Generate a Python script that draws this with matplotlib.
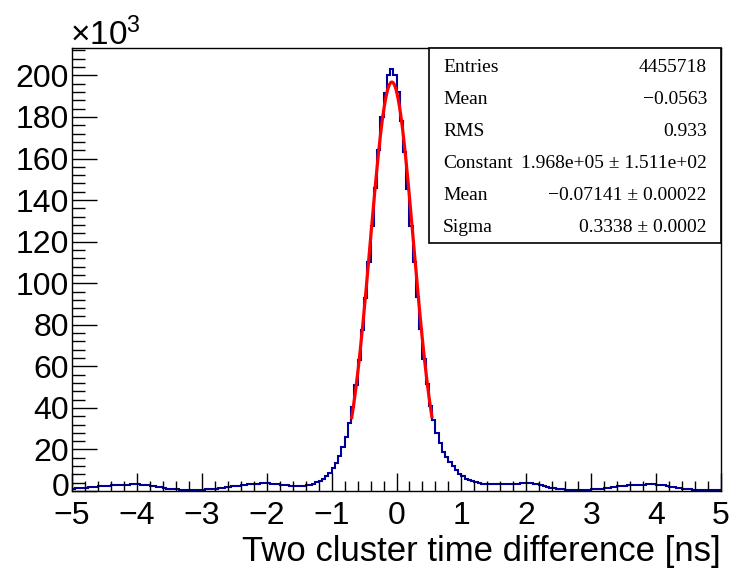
import numpy as np
import matplotlib
matplotlib.use("Agg")
from matplotlib import pyplot as plt
from matplotlib.ticker import MultipleLocator, FuncFormatter

# histogram: 200 bins of 0.05 ns from -5 to 5, counts in units of 10^3
bin_lo = -5.0
bin_hi = 5.0
n_bins = 200

tail_left = [
    1.2, 1.3, 1.4, 1.5, 1.6, 1.7, 1.9, 2.0, 2.2, 2.3,   # -5.0 .. -4.5
    2.5, 2.6, 2.7, 2.8, 2.9, 3.0, 3.1, 3.1, 3.2, 3.2,   # -4.5 .. -4.0
    3.2, 3.1, 3.0, 2.8, 2.6, 2.3, 2.0, 1.7, 1.4, 1.2,   # -4.0 .. -3.5
    1.0, 0.9, 0.8, 0.7, 0.7, 0.6, 0.6, 0.6, 0.6, 0.7,   # -3.5 .. -3.0
    0.7, 0.8, 0.9, 1.0, 1.1, 1.3, 1.5, 1.7, 1.9, 2.2,   # -3.0 .. -2.5
    2.4, 2.6, 2.8, 3.0, 3.2, 3.4, 3.5, 3.6, 3.7, 3.7,   # -2.5 .. -2.0
    3.7, 3.6, 3.5, 3.3, 3.1, 2.9, 2.7, 2.5, 2.4, 2.3,   # -2.0 .. -1.5
]
core = [
    2.3, 2.5, 2.8, 3.1, 3.5, 4.1, 4.9, 6.0, 7.2, 8.9,            # -1.5 .. -1.0
    11.0, 13.6, 16.8, 21.0, 26.2, 32.5, 40.5, 51.0, 63.0, 77.5,  # -1.0 .. -0.5
    93.0, 110.0, 127.5, 146.0, 164.0, 180.0, 191.5, 200.0, 203.0, 200.0,  # -0.5 .. 0.0
    192.0, 178.0, 163.0, 145.5, 127.5, 110.0, 93.5, 78.0, 63.5, 51.5,     # 0.0 .. 0.5
    41.0, 34.0, 28.0, 23.0, 19.0, 16.5, 14.0, 11.8, 9.9, 8.4,    # 0.5 .. 1.0
    7.0, 6.0, 5.2, 4.6, 4.1, 3.8, 3.5, 3.4, 3.3, 3.2,            # 1.0 .. 1.5
]
tail_right = [
    3.2, 3.2, 3.2, 3.2, 3.3, 3.4, 3.5, 3.6, 3.7, 3.8,   # 1.5 .. 2.0
    3.8, 3.7, 3.5, 3.2, 2.8, 2.4, 2.0, 1.6, 1.3, 1.1,   # 2.0 .. 2.5
    0.9, 0.8, 0.7, 0.7, 0.6, 0.6, 0.6, 0.6, 0.7, 0.7,   # 2.5 .. 3.0
    0.8, 0.9, 1.0, 1.2, 1.4, 1.6, 1.8, 2.0, 2.2, 2.4,   # 3.0 .. 3.5
    2.6, 2.7, 2.8, 2.9, 3.0, 3.1, 3.1, 3.2, 3.2, 3.2,   # 3.5 .. 4.0
    3.0, 2.9, 2.7, 2.4, 2.1, 1.8, 1.5, 1.3, 1.1, 0.9,   # 4.0 .. 4.5
    0.8, 0.7, 0.6, 0.6, 0.5, 0.5, 0.5, 0.4, 0.4, 0.4,   # 4.5 .. 5.0
]
counts = np.array(tail_left + core + tail_right)

# gaussian fit result (from stats box)
fit_const = 1.968e5 / 1000.0
fit_mean = -0.07141
fit_sigma = 0.3338
fit_range = (-0.69, 0.545)

stat_labels = ["Entries", "Mean", "RMS", "Constant", "Mean", "Sigma"]
stat_values = ["4455718", "\u22120.0563", "0.933", "1.968e+05 \u00b1 1.511e+02",
               "\u22120.07141 \u00b1 0.00022", "0.3338 \u00b1 0.0002"]

plt.rcParams['font.family'] = ['Liberation Sans', 'DejaVu Sans']
plt.rcParams['mathtext.fontset'] = 'custom'
plt.rcParams['mathtext.rm'] = 'Liberation Sans'

fig = plt.figure(figsize=(7.31, 5.68), dpi=100)
ax = fig.add_axes([72 / 731, 1 - 491 / 568, (721 - 72) / 731, (491 - 48) / 568])

edges = np.linspace(bin_lo, bin_hi, n_bins + 1)
ax.stairs(counts, edges, color='#000099', linewidth=1.5, baseline=None)

xf = np.linspace(fit_range[0], fit_range[1], 300)
yf = fit_const * np.exp(-0.5 * ((xf - fit_mean) / fit_sigma) ** 2)
ax.plot(xf, yf, color='red', linewidth=2.3)

ax.set_xlim(bin_lo, bin_hi)
ax.set_ylim(0, 213.2)
ax.xaxis.set_major_locator(MultipleLocator(1))
ax.xaxis.set_minor_locator(MultipleLocator(0.2))
ax.yaxis.set_major_locator(MultipleLocator(20))
ax.yaxis.set_minor_locator(MultipleLocator(4))
# the "0" label is drawn by hand below, nudged up a bit so it clears "-5"
ax.yaxis.set_major_formatter(FuncFormatter(lambda v, p: '' if abs(v) < 1e-9 else '%d' % v))
ax.tick_params(axis='both', which='both', direction='in', top=False, right=False,
               labelsize=23, width=1.0, color='black')
ax.tick_params(axis='x', which='major', length=13, pad=7)
ax.tick_params(axis='x', which='minor', length=7)
ax.tick_params(axis='y', which='major', length=18, pad=2)
ax.tick_params(axis='y', which='minor', length=9)
for s in ax.spines.values():
    s.set_linewidth(1.0)
ax.annotate('0', xy=(0, 0), xycoords=('axes fraction', 'data'), xytext=(-1.5, 4.5),
            textcoords='offset points', ha='right', va='center_baseline', fontsize=23)

ax.set_xlabel("Two cluster time difference [ns]", fontsize=25, loc='right', labelpad=3)
fig.text(70 / 731, 1 - 45 / 568, r'$\mathregular{\times10^{3}}$', fontsize=24,
         ha='left', va='baseline')

# stats box
bx0, bx1 = (429 - 72) / 649, 1.0
by0 = (491 - 243) / 443
ax.add_patch(plt.Rectangle((bx0, by0), bx1 - bx0, 1 - by0, transform=ax.transAxes,
                           facecolor='white', edgecolor='black', linewidth=1.2,
                           zorder=5, clip_on=False))
row_y = [67, 99, 131, 163, 195, 227]
for lab, val, yy in zip(stat_labels, stat_values, row_y):
    ty = (491 - yy) / 443
    ax.text((443 - 72) / 649, ty, lab, transform=ax.transAxes, fontsize=14,
            family=['Liberation Serif', 'DejaVu Serif'], ha='left', va='center', zorder=6)
    ax.text((707 - 72) / 649, ty, val, transform=ax.transAxes, fontsize=14,
            family=['Liberation Serif', 'DejaVu Serif'], ha='right', va='center', zorder=6)

fig.savefig("out.png", dpi=100)
